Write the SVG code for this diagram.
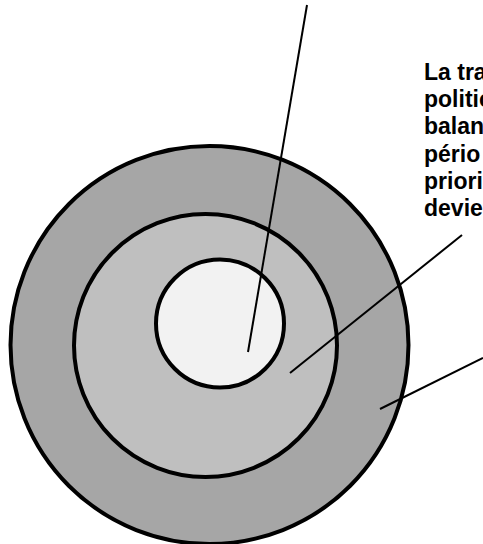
<svg xmlns="http://www.w3.org/2000/svg" width="483" height="544" viewBox="0 0 483 544">
<style>
.ring{stroke:#000;stroke-width:4}
.lead{stroke:#000;stroke-width:2;fill:none}
.lbl{font-family:"Liberation Sans",Arial,sans-serif;font-weight:bold;font-size:23px;fill:#000}
</style>
<rect width="483" height="544" fill="#fff"/>
<g id="outer-ring"><circle class="ring" cx="209.5" cy="345" r="199" fill="#a6a6a6"/></g>
<g id="middle-ring"><circle class="ring" cx="205.5" cy="345.5" r="131.5" fill="#bfbfbf"/></g>
<g id="inner-core"><circle class="ring" cx="220" cy="323.5" r="64" fill="#f2f2f2"/></g>
<g id="label">
<text class="lbl" x="424" y="80">La tra</text>
<text class="lbl" x="424" y="107">politic</text>
<text class="lbl" x="424" y="134">balan</text>
<text class="lbl" x="424" y="162">pério</text>
<text class="lbl" x="424" y="189">priori</text>
<text class="lbl" x="424" y="216">devie</text>
</g>
<g id="connectors">
<line class="lead" x1="307" y1="5" x2="248" y2="352"/>
<line class="lead" x1="462" y1="235" x2="290" y2="373"/>
<line class="lead" x1="483" y1="358" x2="380" y2="409"/>
</g>
</svg>
